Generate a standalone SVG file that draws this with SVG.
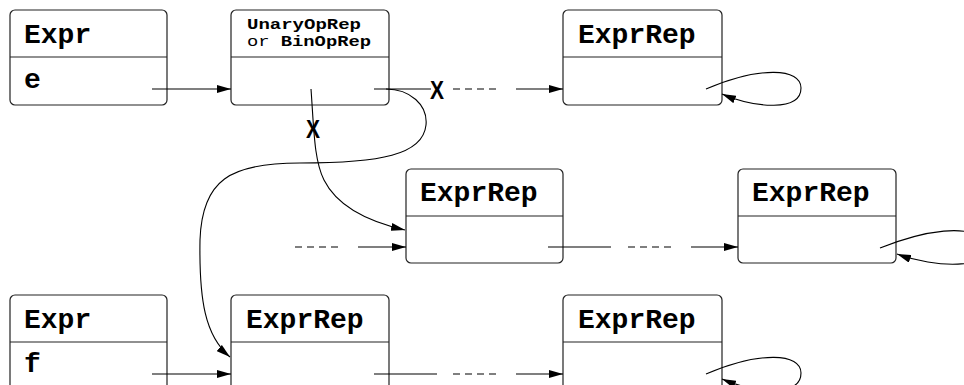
<svg xmlns="http://www.w3.org/2000/svg" width="964" height="385" viewBox="0 0 964 385">
  <style>
    .box { fill: #ffffff; stroke: #222; stroke-width: 1.2; }
    .div { stroke: #222; stroke-width: 1.2; }
    .title { font-family: "Liberation Mono", "DejaVu Sans Mono", monospace; font-weight: bold; font-size: 28px; fill: #000; }
    .small { font-family: "Liberation Mono", "DejaVu Sans Mono", monospace; font-size: 15px; fill: #000; }
    .b { font-weight: bold; }
    .line { fill: none; stroke: #000; stroke-width: 1.1; }
    .dash { fill: none; stroke: #000; stroke-width: 1.1; stroke-dasharray: 7 5; }
    .cut { font-family: "Liberation Sans", Arial, sans-serif; font-weight: bold; font-size: 26px; fill: #000; }
  </style>
  <defs>
    <marker id="arrow" viewBox="0 0 14 8" refX="14" refY="4" markerWidth="14" markerHeight="8" markerUnits="userSpaceOnUse" orient="auto">
      <path d="M0,0 L14,4 L0,8 Z" fill="#000"/>
    </marker>
  </defs>

  <rect width="964" height="385" fill="#ffffff"/>

  <!-- nodes -->
  <g id="expr-e">
    <rect class="box" x="10" y="10" width="157" height="95" rx="5"/>
    <line class="div" x1="10" y1="57" x2="167" y2="57"/>
    <text class="title" x="24" y="43">Expr</text>
    <text class="title" x="24" y="88">e</text>
  </g>
  <g id="op-rep">
    <rect class="box" x="231" y="10" width="158" height="95" rx="5"/>
    <line class="div" x1="231" y1="57" x2="389" y2="57"/>
    <text class="small b" x="247" y="29" textLength="114" lengthAdjust="spacingAndGlyphs">UnaryOpRep</text>
    <text class="small" x="247" y="46" textLength="124" lengthAdjust="spacingAndGlyphs">or <tspan class="b">BinOpRep</tspan></text>
  </g>
  <g id="rep-top">
    <rect class="box" x="563" y="10" width="159" height="95" rx="5"/>
    <line class="div" x1="563" y1="57" x2="722" y2="57"/>
    <text class="title" x="578" y="43">ExprRep</text>
  </g>
  <g id="rep-mid">
    <rect class="box" x="406" y="169" width="157" height="94" rx="5"/>
    <line class="div" x1="406" y1="216" x2="563" y2="216"/>
    <text class="title" x="420" y="201">ExprRep</text>
  </g>
  <g id="rep-mid-right">
    <rect class="box" x="738" y="169" width="158" height="94" rx="5"/>
    <line class="div" x1="738" y1="216" x2="896" y2="216"/>
    <text class="title" x="752" y="201">ExprRep</text>
  </g>
  <g id="expr-f">
    <rect class="box" x="10" y="295" width="157" height="95" rx="5"/>
    <line class="div" x1="10" y1="342" x2="167" y2="342"/>
    <text class="title" x="24" y="328">Expr</text>
    <text class="title" x="24" y="372">f</text>
  </g>
  <g id="rep-bottom">
    <rect class="box" x="231" y="295" width="158" height="95" rx="5"/>
    <line class="div" x1="231" y1="342" x2="389" y2="342"/>
    <text class="title" x="246" y="328">ExprRep</text>
  </g>
  <g id="rep-bottom-right">
    <rect class="box" x="563" y="295" width="159" height="95" rx="5"/>
    <line class="div" x1="563" y1="342" x2="722" y2="342"/>
    <text class="title" x="578" y="328">ExprRep</text>
  </g>

  <!-- connectors -->
  <g id="connectors">
    <!-- top row -->
    <line class="line" x1="152" y1="89" x2="231" y2="89" marker-end="url(#arrow)"/>
    <line class="line" x1="374" y1="89" x2="431" y2="89"/>
    <text class="cut" x="430" y="99" textLength="14" lengthAdjust="spacingAndGlyphs">X</text>
    <line class="dash" x1="453" y1="89" x2="500" y2="89"/>
    <line class="line" x1="516" y1="89" x2="563" y2="89" marker-end="url(#arrow)"/>
    <path class="line" d="M706,89 C760,66 801,68 801,88 C801,112 755,108 722,94" marker-end="url(#arrow)"/>

    <!-- from the operator node down to the middle node -->
    <path class="line" d="M311,89 C314,130 314,160 324,180 C338,208 370,222 405,230" marker-end="url(#arrow)"/>
    <text class="cut" x="306" y="138" textLength="14" lengthAdjust="spacingAndGlyphs">X</text>

    <!-- from the operator node round to the bottom node -->
    <path class="line" d="M386,89 C410,89 428,105 426,125 C423,155 380,163 300,163 C230,163 202,180 200,240 C199,300 205,336 230,357" marker-end="url(#arrow)"/>

    <!-- middle row -->
    <line class="dash" x1="295" y1="247" x2="342" y2="247"/>
    <line class="line" x1="358" y1="247" x2="406" y2="247" marker-end="url(#arrow)"/>
    <line class="line" x1="548" y1="247" x2="611" y2="247"/>
    <line class="dash" x1="628" y1="247" x2="675" y2="247"/>
    <line class="line" x1="691" y1="247" x2="738" y2="247" marker-end="url(#arrow)"/>
    <path class="line" d="M880,248 C920,232 975,220 985,245 C992,270 935,268 897,254" marker-end="url(#arrow)"/>

    <!-- bottom row -->
    <line class="line" x1="152" y1="374" x2="231" y2="374" marker-end="url(#arrow)"/>
    <line class="line" x1="374" y1="374" x2="437" y2="374"/>
    <line class="dash" x1="453" y1="374" x2="500" y2="374"/>
    <line class="line" x1="516" y1="374" x2="563" y2="374" marker-end="url(#arrow)"/>
    <path class="line" d="M706,374 C760,351 801,353 801,373 C801,397 755,393 722,379" marker-end="url(#arrow)"/>
  </g>
</svg>
